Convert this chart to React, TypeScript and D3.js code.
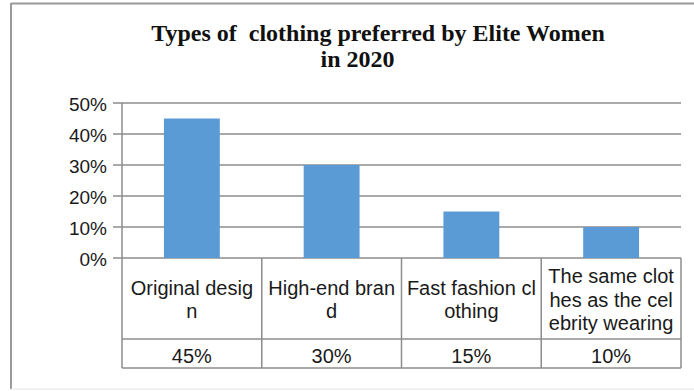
import React from "react";
import * as d3 from "d3";

const titleLines = ["Types of  clothing preferred by Elite Women", "in 2020"];
const categories = ["Original design", "High-end brand", "Fast fashion clothing", "The same clothes as the celebrity wearing"];
const categoryLabelLines = [
  ["Original desig", "n"],
  ["High-end bran", "d"],
  ["Fast fashion cl", "othing"],
  ["The same clot", "hes as the cel", "ebrity wearing"],
];
const values = [0.45, 0.3, 0.15, 0.1];
const valueLabels = ["45%", "30%", "15%", "10%"];
const yTicks = [0, 0.1, 0.2, 0.3, 0.4, 0.5];

const W = 694;
const H = 391;
const plotLeft = 122;
const plotRight = 681;
const plotTop = 103;
const plotBottom = 258;
const rowDivider = 339;
const tableBottom = 368;

export default function App() {
  const x = d3.scaleBand<string>().domain(categories).range([plotLeft, plotRight]).paddingInner(0.6).paddingOuter(0.3);
  const y = d3.scaleLinear().domain([0, 0.5]).range([plotBottom, plotTop]);
  const fmt = d3.format(".0%");
  const step = (plotRight - plotLeft) / categories.length;
  const grid = "#8c8c8c";
  const sans = "'Liberation Sans', Arial, Helvetica, sans-serif";
  const serif = "'Liberation Serif', 'Times New Roman', serif";
  const cellFont = 20;
  const lineGap = 23.5;
  const catMid = (plotBottom + rowDivider) / 2;
  const ink = "#1a1a1a";

  return (
    <svg width={W} height={H} style={{ position: "absolute", left: 0, top: 0, background: "#fff" }}>
      <rect x={0} y={0} width={W} height={H} fill="#fff" />
      {/* outer frame */}
      <line x1={11} y1={3.5} x2={W} y2={3.5} stroke="#9a9a9a" strokeWidth={2} />
      <line x1={11} y1={3} x2={11} y2={389} stroke="#9a9a9a" strokeWidth={2} />
      <line x1={11} y1={389} x2={W} y2={389} stroke="#e4e4e4" strokeWidth={1} />

      {/* title */}
      <text x={378} y={41} textAnchor="middle" fontFamily={serif} fontWeight="bold" fontSize={24} fill="#111" style={{ whiteSpace: "pre" }}>
        {titleLines[0]}
      </text>
      <text x={357.5} y={67} textAnchor="middle" fontFamily={serif} fontWeight="bold" fontSize={24} fill="#111" style={{ whiteSpace: "pre" }}>
        {titleLines[1]}
      </text>

      {/* gridlines and ticks */}
      {yTicks.map((t) => (
        <g key={t}>
          <line x1={113} x2={plotRight} y1={y(t)} y2={y(t)} stroke={grid} strokeWidth={1.5} />
          <text x={107} y={y(t) + 7.5} textAnchor="end" fontFamily={sans} fontSize={19} fill={ink}>
            {fmt(t)}
          </text>
        </g>
      ))}
      <line x1={plotLeft} x2={plotLeft} y1={plotTop} y2={tableBottom} stroke={grid} strokeWidth={1.5} />

      {/* bars */}
      {categories.map((c, i) => (
        <rect key={c} x={x(c)} y={y(values[i])} width={x.bandwidth()} height={y(0) - y(values[i])} fill="#5b9bd5" />
      ))}

      {/* data table */}
      <line x1={plotLeft} x2={plotRight} y1={rowDivider} y2={rowDivider} stroke={grid} strokeWidth={1.5} />
      <line x1={plotLeft} x2={plotRight} y1={tableBottom} y2={tableBottom} stroke={grid} strokeWidth={1.5} />
      {categories.map((c, i) => (
        <line key={"v" + c} x1={plotLeft + step * (i + 1)} x2={plotLeft + step * (i + 1)} y1={plotBottom} y2={tableBottom} stroke={grid} strokeWidth={1.5} />
      ))}
      {categories.map((c, i) => {
        const lines = categoryLabelLines[i];
        const cx = (x(c) as number) + x.bandwidth() / 2;
        const startY = catMid - ((lines.length - 1) * lineGap) / 2;
        return (
          <g key={"l" + c}>
            {lines.map((ln, j) => (
              <text key={j} x={cx} y={startY + j * lineGap + 8} textAnchor="middle" fontFamily={sans} fontSize={cellFont} fill={ink}>
                {ln}
              </text>
            ))}
            <text x={cx} y={(rowDivider + tableBottom) / 2 + 9.5} textAnchor="middle" fontFamily={sans} fontSize={cellFont} fill={ink}>
              {valueLabels[i]}
            </text>
          </g>
        );
      })}
    </svg>
  );
}
